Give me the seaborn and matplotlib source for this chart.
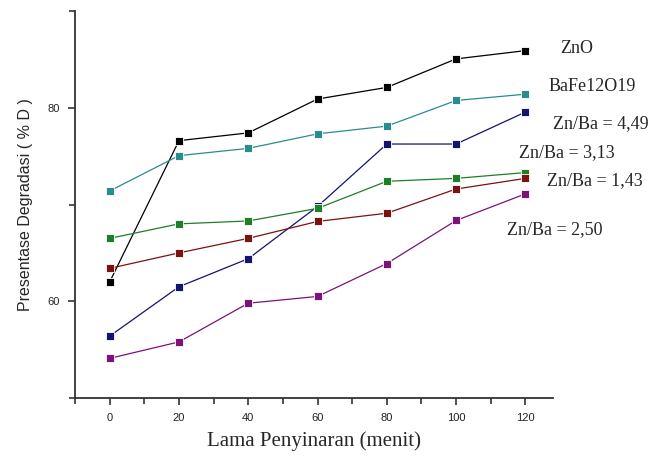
import numpy as np
import pandas as pd
import matplotlib
matplotlib.use("Agg")
import matplotlib.pyplot as plt
import seaborn as sns

# irradiation time (minutes)
waktu = [0, 20, 40, 60, 80, 100, 120]

# degradation (%D) per sample
zno = [62.0, 76.6, 77.4, 80.9, 82.1, 85.05, 85.9]
bafe = [71.4, 75.05, 75.8, 77.3, 78.1, 80.75, 81.4]
znba_449 = [56.4, 61.5, 64.4, 69.8, 76.25, 76.25, 79.55]
znba_313 = [66.5, 68.0, 68.3, 69.6, 72.4, 72.7, 73.3]
znba_143 = [63.4, 65.0, 66.5, 68.25, 69.1, 71.6, 72.7]
znba_250 = [54.1, 55.8, 59.8, 60.5, 63.9, 68.35, 71.1]

series = ["ZnO", "BaFe12O19", "Zn/Ba = 4,49", "Zn/Ba = 3,13", "Zn/Ba = 1,43", "Zn/Ba = 2,50"]
values = [zno, bafe, znba_449, znba_313, znba_143, znba_250]
colors = ["#000000", "#2a8c8c", "#14146e", "#1f7f26", "#7a1212", "#7d1279"]

# label positions in axes fraction (text only)
label_pos = {
    "ZnO": (1.015, 0.904),
    "BaFe12O19": (0.990, 0.804),
    "Zn/Ba = 4,49": (1.000, 0.708),
    "Zn/Ba = 3,13": (0.929, 0.633),
    "Zn/Ba = 1,43": (0.987, 0.563),
    "Zn/Ba = 2,50": (0.904, 0.434),
}

rows = []
for name, vals in zip(series, values):
    for t, v in zip(waktu, vals):
        rows.append({"waktu": t, "degradasi": v, "sampel": name})
df = pd.DataFrame(rows)

sns.set_theme(style="white")
plt.rcParams["font.family"] = ["Liberation Sans", "DejaVu Sans"]

fig = plt.figure(figsize=(6.64, 4.57), dpi=100)
ax = fig.add_axes([0.113, 0.129, 0.72, 0.847])

sns.lineplot(data=df, x="waktu", y="degradasi", hue="sampel", hue_order=series,
             palette=dict(zip(series, colors)), marker="s", markersize=5.5,
             markeredgewidth=0.6, linewidth=0.9, legend=False, ax=ax)

ax.set_xlim(-10, 128)
ax.set_ylim(50, 90)
ax.set_xticks(range(0, 121, 20))
ax.set_xticks(range(-10, 121, 20), minor=True)
ax.set_yticks([60, 80])
ax.set_yticks([50, 70, 90], minor=True)
ax.tick_params(axis="both", which="major", direction="out", length=5, width=1.2,
               labelsize=8, pad=6, color="#333333", labelcolor="#222222")
ax.tick_params(axis="both", which="minor", direction="out", length=4, width=1.2,
               color="#333333")
ax.tick_params(left=True, bottom=True, which="both")

for s in ["top", "right"]:
    ax.spines[s].set_visible(False)
for s in ["left", "bottom"]:
    ax.spines[s].set_color("#333333")
    ax.spines[s].set_linewidth(1.3)

ax.set_xlabel("Lama Penyinaran (menit)", fontsize=15, family="Liberation Serif",
              labelpad=6)
ax.set_ylabel("Presentase Degradasi ( % D )", fontsize=11.5, labelpad=10)

for name in series:
    x, y = label_pos[name]
    ax.text(x, y, name, transform=ax.transAxes, fontsize=13,
            family="Liberation Serif", va="center", ha="left", clip_on=False)

fig.savefig("out.png", dpi=100)
